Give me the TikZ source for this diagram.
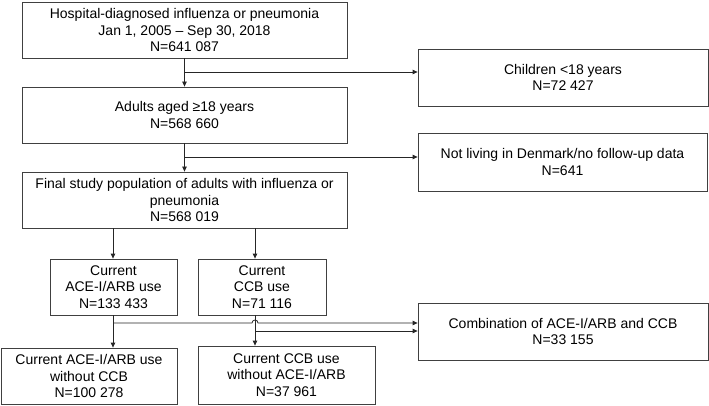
\documentclass[tikz,border=0pt]{standalone}
\usepackage{fontspec}
\setmainfont{Liberation Sans}
\usetikzlibrary{arrows.meta}
\begin{document}
\begin{tikzpicture}[x=1pt,y=-1pt,
  box/.style={draw=black!75,line width=0.8pt,align=center,inner sep=0pt,
    font=\fontsize{14}{16.5}\selectfont,anchor=center},
  conn/.style={draw=black!85,line width=0.8pt},
  arr/.style={conn,-{Triangle[length=5pt,width=4.5pt]}}]
\useasboundingbox (0,0) rectangle (709,406);
\node[box,minimum width=325pt,minimum height=56pt] (b1) at (184.5,30)
  {Hospital-diagnosed influenza or pneumonia\\Jan 1, 2005 -- Sep 30, 2018\\N=641 087};
\node[box,minimum width=325pt,minimum height=56pt] (b2) at (184.5,115)
  {Adults aged ≥18 years\\N=568 660};
\node[box,minimum width=325pt,minimum height=56pt] (b3) at (184.5,200)
  {Final study population of adults with influenza or\\pneumonia\\N=568 019};
\node[box,minimum width=290pt,minimum height=57pt] (ch) at (563,77.5)
  {Children <18 years\\N=72 427};
\node[box,minimum width=289pt,minimum height=58pt] (nl) at (562.5,162)
  {Not living in Denmark/no follow-up data\\N=641};
\node[box,minimum width=127pt,minimum height=56pt] (ace) at (113.5,287)
  {Current\\ACE-I/ARB use\\N=133 433};
\node[box,minimum width=128pt,minimum height=56pt] (ccb) at (262,287)
  {Current\\CCB use\\N=71 116};
\node[box,minimum width=176pt,minimum height=56pt] (bl) at (89,376)
  {Current ACE-I/ARB use\\without CCB\\N=100 278};
\node[box,minimum width=177pt,minimum height=58pt] (bm) at (286.5,375)
  {Current CCB use\\without ACE-I/ARB\\N=37 961};
\node[box,minimum width=290pt,minimum height=57pt] (cb) at (563,331.5)
  {Combination of ACE-I/ARB and CCB\\N=33 155};
% junctions
\coordinate (j1) at (185,72);
\coordinate (j2) at (185,157);
\coordinate (xa) at (113,0);
\coordinate (xc) at (255,0);
\coordinate (ja) at (113,323);
\coordinate (jc) at (255,331);
\coordinate (hl) at (252,323);
% main flow
\draw[arr] (b1.south) -- (b2.north);
\draw[arr] (b2.south) -- (b3.north);
\draw[arr] (j1) -- (ch.west |- j1);
\draw[arr] (j2) -- (nl.west |- j2);
\draw[arr] (xa |- b3.south) -- (xa |- ace.north);
\draw[arr] (xc |- b3.south) -- (xc |- ccb.north);
% ACE branch
\draw[conn] (xa |- ace.south) -- (ja);
\draw[arr] (ja) -- (hl) arc[start angle=180,end angle=0,radius=3pt] -- (cb.west |- ja);
\draw[arr] (ja) -- (xa |- bl.north);
% CCB branch
\draw[conn] (xc |- ccb.south) -- (jc);
\draw[arr] (jc) -- (cb.west |- jc);
\draw[arr] (jc) -- (xc |- bm.north);
\end{tikzpicture}
\end{document}
